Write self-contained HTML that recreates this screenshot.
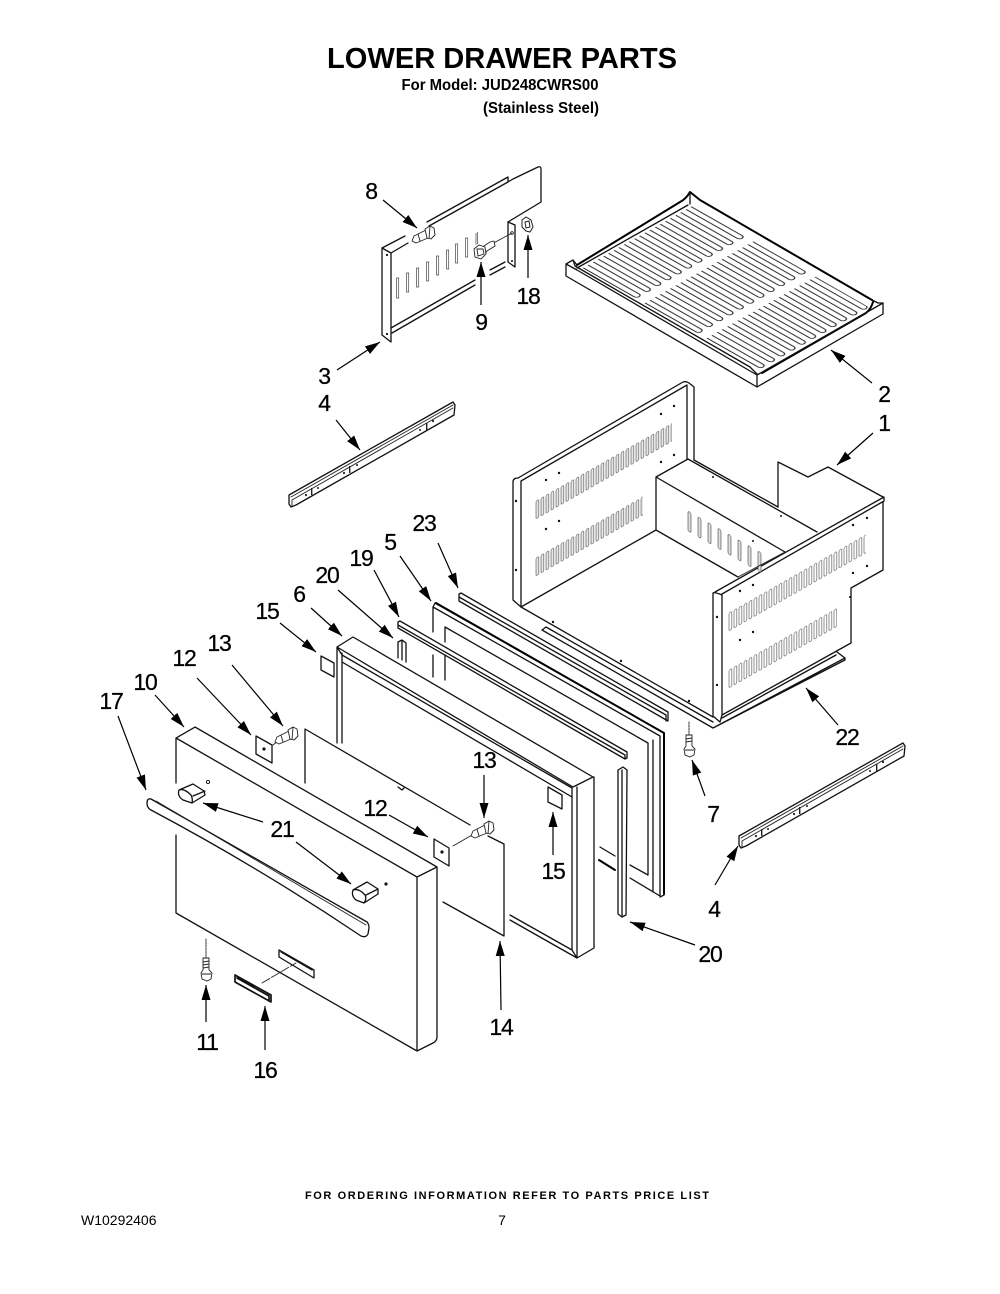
<!DOCTYPE html>
<html><head><meta charset="utf-8"><title>Lower Drawer Parts</title>
<style>
html,body{margin:0;padding:0;background:#fff;}
svg{display:block;}
text{font-family:"Liberation Sans",sans-serif;fill:#000;}
.n{font-size:23px;letter-spacing:-1.2px;text-anchor:middle;stroke:#000;stroke-width:.25;}
.l{fill:none;stroke:#111;stroke-width:1.3;stroke-linejoin:round;stroke-linecap:round;}
.t{fill:none;stroke:#222;stroke-width:.9;stroke-linejoin:round;stroke-linecap:round;}
.k{fill:none;stroke:#000;stroke-width:2;stroke-linejoin:round;stroke-linecap:round;}
.w{fill:#fff;stroke:#111;stroke-width:1.3;stroke-linejoin:round;stroke-linecap:round;}
.a{stroke:#000;stroke-width:1.2;fill:none;marker-end:url(#ah);}
</style></head><body>
<svg xmlns="http://www.w3.org/2000/svg" width="1000" height="1294" viewBox="0 0 1000 1294">
<defs>
<marker id="ah" markerUnits="userSpaceOnUse" markerWidth="16" markerHeight="10" refX="15" refY="5" orient="auto"><path d="M0 .5 L15 5 L0 9.5 Z" fill="#000"/></marker>
<pattern id="sl" patternUnits="userSpaceOnUse" width="5" height="19"><rect x="1" y=".5" width="2.8" height="18" rx="1.4" fill="#e6e6e6" stroke="#444" stroke-width=".6"/></pattern>
<pattern id="sr" patternUnits="userSpaceOnUse" width="5" height="19"><rect x="1" y=".5" width="2.8" height="18" rx="1.4" fill="#fff" stroke="#444" stroke-width=".6"/></pattern>
<pattern id="sb" patternUnits="userSpaceOnUse" width="10" height="21"><rect x="1" y=".5" width="3" height="20" rx="1.5" fill="#e0e0e0" stroke="#333" stroke-width=".6"/></pattern>
<pattern id="tp" patternUnits="userSpaceOnUse" width="62" height="10.3"><path d="M0 1 H51 A2.5 2.5 0 0 1 51 6 H0" fill="none" stroke="#222" stroke-width=".95"/></pattern>
<clipPath id="tc"><path d="M578 269 L690 205 L872 309 L758 373 Z"/></clipPath>
<g id="screw"><path d="M0 5 L2 0 L14 -6 L16 2 L4 7 Z M6 -2 L8 5" fill="#fff" stroke="#222" stroke-width=".9" stroke-linejoin="round"/><path d="M13 -7 L18 -10 L22 -8 L23 -1 L19 3 L15 2 Z M18 -10 L17 3" fill="#fff" stroke="#222" stroke-width=".9" stroke-linejoin="round"/></g>
<g id="rail"><path class="w" d="M288 495 L452 402 L454 405 L453 415 L295 505 L290 507 L288 504 Z"/><path class="t" d="M290 497 L452 405 M291 500 L452 408 M291 500 V507"/>
<g fill="#222"><rect x="310" y="488" width="1.4" height="7"/><circle cx="305" cy="495" r="1.1"/><circle cx="317" cy="488" r="1"/><rect x="348" y="466" width="1.4" height="7"/><circle cx="343" cy="473" r="1.1"/><circle cx="356" cy="465" r="1"/><rect x="425" y="423" width="1.4" height="7"/><circle cx="419" cy="430" r="1"/><circle cx="432" cy="421" r="1.1"/></g></g>
</defs>
<rect width="1000" height="1294" fill="#fff"/>

<!-- Title -->
<text x="502" y="68" text-anchor="middle" font-size="29" font-weight="bold" textLength="350" lengthAdjust="spacingAndGlyphs">LOWER DRAWER PARTS</text>
<text x="500" y="90" text-anchor="middle" font-size="16" font-weight="bold" textLength="197" lengthAdjust="spacingAndGlyphs">For Model: JUD248CWRS00</text>
<text x="541" y="113" text-anchor="middle" font-size="16" font-weight="bold" textLength="116" lengthAdjust="spacingAndGlyphs">(Stainless Steel)</text>

<!-- Part 3 bracket -->
<g>
<path class="l" d="M382 248 L405 236 M391 253 L408 243 M427 222 L508 177 V182 L429 226 M508 182 L513 179 L538 167 Q541 166 541 169 L541 202 L508 222"/>
<path class="l" d="M382 248 L391 253 L391 342 L382 335 Z"/>
<path class="l" d="M508 222 V262 M508 222 L515 225 V267 L508 262 M391 328 L475 280 M392 333 L475 285 M490 270 L505 262 M490 275 L505 267"/>
<circle cx="387" cy="255" r="1.1" fill="#111"/><circle cx="387" cy="334" r="1.1" fill="#111"/><circle cx="512" cy="233" r="1.4" fill="none" stroke="#111" stroke-width=".7"/><circle cx="512" cy="261" r="1" fill="#111"/>
<g fill="none" stroke="#444" stroke-width=".7"><rect x="396.500" y="278" width="2.2" height="20"/><rect x="406.500" y="273" width="2.2" height="19"/><rect x="416.500" y="268" width="2.2" height="19"/><rect x="426.500" y="262" width="2.2" height="19"/><rect x="436.500" y="256" width="2.2" height="19"/><rect x="446.500" y="250" width="2.2" height="19"/><rect x="455.500" y="244" width="2.2" height="19"/><rect x="465.500" y="238" width="2.200" height="19"/><path d="M476 233 V245 M477.500 232 V244"/></g>
<use href="#screw" x="412" y="236"/>
<path class="t" d="M490 245 L512 233"/>
<path d="M481 248 L490 242 L494 241 L495 246 L487 251 L484 256 Z" fill="#fff" stroke="#222" stroke-width=".9"/>
<path d="M474 249 L479 245 L485 247 L486 254 L481 259 L475 257 Z M477 249 L483 249 L484 254 L478 256 Z" fill="#fff" stroke="#222" stroke-width=".9"/>
<path d="M522 220 L526 217 L531 220 L533 227 L530 232 L526 231 L522 227 Z M525 222 L529 221 L530 227 L526 228 Z" fill="#fff" stroke="#222" stroke-width="1"/>
</g>

<!-- Part 2 tray -->
<g>
<path class="w" d="M566 264 L573 260 L577 265 L680 202 Q686 199 690 192 L700 200 L872 300 L878 303 L883 303 L883 314 L757 387 L566 276 Z"/>
<path class="k" d="M577 265 L680 202 Q686 199 690 192 L700 200 L872 300"/>
<path class="k" d="M762 373 L866 313 Q871 309 873 302"/>
<path class="l" d="M566 264 L577 270 L757 375 L883 303 M757 375 V387 M690 193 V204 M577 268 L688 205 M573 260 L575 266 L750 367 L757 374"/>
<g clip-path="url(#tc)"><g transform="matrix(1,0.567,-1,0.567,692,206)"><rect x="0" y="0" width="186" height="113" fill="url(#tp)"/></g></g>
</g>

<!-- Part 1 drawer -->
<g>
<path class="l" d="M521 607 L656 530 L738 577 M656 477 V530 M656 477 L688 459 M656 477 L785 552 M688 459 L817 532 M694 460 L778 507"/>
<path class="l" d="M778 507 V462 L808 477 L828 467 L883 497"/>
<path class="l" d="M518 478 L683 382 Q686 381 689 383 L694 387 V460 M521 481 L687 385 V459 M518 478 Q513 478 513 482 V600 L521 607 V481 M521 607 L713 717 M513 600 L521 607"/>
<path class="l" d="M715 592 L884 497 L884 501 L722 594 M883 502 V570 L851 588 V643 L722 715 M713 593 Q715 592 722 595 V715 L720 722 L713 716 Z" fill="#fff"/>
<g transform="translate(535,501) skewY(-29.7)"><rect width="137" height="19" fill="url(#sl)"/></g>
<g transform="translate(535,558) skewY(-29.7)"><rect width="108" height="19" fill="url(#sl)"/></g>
<g transform="translate(728,613) skewY(-29.7)"><rect width="138" height="19" fill="url(#sr)"/></g>
<g transform="translate(728,670) skewY(-29.7)"><rect width="109" height="19" fill="url(#sr)"/></g>
<g transform="translate(687,510) skewY(29.7)"><rect width="80" height="21" fill="url(#sb)"/></g>
<path d="M785 552 L738 577" class="t"/>
<g fill="#111">
<circle cx="661" cy="414" r="1.2"/><circle cx="674" cy="406" r="1.2"/><circle cx="546" cy="480" r="1.2"/><circle cx="559" cy="473" r="1.2"/><circle cx="546" cy="529" r="1.2"/><circle cx="559" cy="521" r="1.2"/><circle cx="661" cy="462" r="1.2"/><circle cx="674" cy="455" r="1.2"/><circle cx="516" cy="501" r="1.2"/><circle cx="516" cy="570" r="1.2"/>
<circle cx="713" cy="477" r="1"/><circle cx="781" cy="516" r="1"/><circle cx="753" cy="541" r="1"/>
<circle cx="740" cy="591" r="1.2"/><circle cx="740" cy="640" r="1.2"/><circle cx="753" cy="585" r="1.2"/><circle cx="853" cy="525" r="1.2"/><circle cx="867" cy="518" r="1.2"/><circle cx="853" cy="573" r="1.2"/><circle cx="867" cy="566" r="1.2"/><circle cx="753" cy="632" r="1.2"/><circle cx="717" cy="617" r="1.2"/><circle cx="717" cy="685" r="1.2"/><circle cx="850" cy="597" r="1"/>
<circle cx="553" cy="622" r="1.2"/><circle cx="621" cy="661" r="1.2"/><circle cx="689" cy="701" r="1.2"/>
</g>
<!-- part 22 sheet -->
<path class="l" d="M542 630 L546 627 L713 722 M542 630 L713 728 L845 658 L837 652 M713 728 L845 660 L845 658 M722 718 L836 655"/>
</g>

<!-- Part 4 rails -->
<use href="#rail" x="1"/>
<use href="#rail" x="451" y="341"/>

<!-- Part 5 gasket -->
<path class="l" d="M433 607 L435 603 L664 733 V895 L660 897 M433 607 L660 736 V896 M445 627 L648 743 V875 M653 740 V892 M433 607 V632 M433 655 V677 M445 627 V642 M445 655 V680 M600 847 L615 856 M630 865 L648 875 M630 878 L660 896"/>
<path class="k" d="M436 603 L664 733 V894 M599 860 L615 870"/>
<!-- Strip 23 -->
<path class="l" d="M459 594 L461 593 L668 712 V721 L459 601 Z M459 597 L666 715 V721"/>
<!-- Strip 19 -->
<path class="l" d="M398 622 L400 621 L627 752 V758 L625 759 L398 628 Z M398 625 L625 755 V759"/>
<!-- Strip 20 left -->
<path class="l" d="M398 658 V642 L402 640 L406 643 V662 M402 641 V660"/>
<!-- Strip 20 right -->
<path class="w" d="M618 770 L623 767 L627 770 L626 915 L622 917 L618 914 Z"/>
<path class="l" d="M622 770 V917"/>

<!-- Part 6 frame -->
<g>
<path class="l" d="M337 743 V647 L353 637 L593 777 L573 787 L337 647 M342 743 V653 M342 662 L572 797 M342 655 L572 788 M337 647 L342 655 M572 788 V950 M577 787 V958 L594 948 V777 M510 915 L572 950 L577 958 M510 920 L577 958"/>
<path class="w" d="M321 656 L334 663 V677 L321 670 Z"/>
<path class="w" d="M548 787 L562 795 V809 L548 802 Z"/>
</g>

<!-- Part 14 sheet -->
<path class="l" d="M305 783 V729 L470 825 M488 836 L504 844 V936 L443 902 M398 787 L402 790 L404 788"/>

<!-- Part 12/13 -->
<path class="w" d="M256 736 L272 745 V763 L256 754 Z"/><circle cx="264" cy="749" r="1.6" fill="#111"/>
<path class="w" d="M434 839 L449 848 V866 L434 857 Z"/><circle cx="442" cy="852" r="1.6" fill="#111"/>
<path class="t" d="M273 745 L278 741"/>
<use href="#screw" x="275" y="737"/>
<path class="t" d="M453 846 L472 835"/>
<use href="#screw" x="471" y="831"/>

<!-- Part 10 front -->
<g>
<path class="l" d="M176 783 V738 L195 727 L437 867 L417 877 L176 738 M176 835 V913 L417 1051 V877 M417 1051 L433 1043 Q437 1041 437 1037 V867"/>
<circle cx="208" cy="782" r="1.6" fill="none" stroke="#111" stroke-width=".9"/><circle cx="386" cy="884" r="1.6" fill="#111"/>
<path class="w" d="M147 803 Q147 798 151 799 L367 922 Q369 924 369 928 L368 934 Q366 938 361 936 Q260 868 151 810 Q147 808 147 803 Z"/>
<path class="t" d="M156 801 L366 925"/>
<path class="w" d="M179 790 L193 784 L204 791 L205 795 L192 803 L183 800 Q177 796 179 790 Z M179 790 Q184 788 191 795 Q193 799 192 803 M193 796 L205 791"/>
<path class="w" d="M353 890 L367 882 L378 889 L378 894 L364 903 L356 900 Q351 896 353 890 Z M353 890 Q359 888 365 895 Q367 899 364 903 M366 895 L378 889"/>
<path class="l" d="M279 950 L314 970 V978 L279 957 Z M281 952 L312 970" />
<path class="l" style="stroke-width:1.7" d="M235 975 L271 995 V1002 L235 982 Z M237 978 L269 996 V1001"/>
<path class="t" d="M262 983 L296 963" stroke-dasharray="9 2"/>
<path class="t" d="M206 939 V958" stroke-dasharray="2 1"/>
<path d="M203 958 L209 958 L209 970 L212 973 L211 979 L207 981 L202 979 L201 973 L203 970 Z M203 962 L209 961 M203 965 L209 964 M203 968 L209 967 M202 974 L211 974" fill="#fff" stroke="#222" stroke-width=".9"/>
</g>
<!-- Screw 7 -->
<path class="t" d="M689 722 V735" stroke-dasharray="2 1"/>
<path d="M686 735 L692 735 L692 746 L695 749 L694 755 L690 757 L685 755 L684 749 L686 746 Z M686 739 L692 738 M686 742 L692 741 M685 750 L694 750" fill="#fff" stroke="#222" stroke-width=".9"/>

<!-- Arrows -->
<line class="a" x1="383" y1="200" x2="417" y2="228"/>
<line class="a" x1="481" y1="305" x2="481" y2="262"/>
<line class="a" x1="528" y1="278" x2="528" y2="235"/>
<line class="a" x1="337" y1="370" x2="380" y2="342"/>
<line class="a" x1="872" y1="383" x2="831" y2="350"/>
<line class="a" x1="873" y1="433" x2="837" y2="465"/>
<line class="a" x1="838" y1="725" x2="806" y2="688"/>
<line class="a" x1="336" y1="420" x2="360" y2="450"/>
<line class="a" x1="705" y1="796" x2="692" y2="760"/>
<line class="a" x1="715" y1="885" x2="738" y2="846"/>
<line class="a" x1="695" y1="945" x2="630" y2="922"/>
<line class="a" x1="501" y1="1010" x2="500" y2="941"/>
<line class="a" x1="265" y1="1050" x2="265" y2="1006"/>
<line class="a" x1="206" y1="1022" x2="206" y2="985"/>
<line class="a" x1="263" y1="822" x2="203" y2="803"/>
<line class="a" x1="296" y1="842" x2="351" y2="884"/>
<line class="a" x1="118" y1="716" x2="146" y2="790"/>
<line class="a" x1="155" y1="695" x2="184" y2="727"/>
<line class="a" x1="197" y1="678" x2="251" y2="735"/>
<line class="a" x1="232" y1="665" x2="283" y2="726"/>
<line class="a" x1="280" y1="623" x2="316" y2="652"/>
<line class="a" x1="311" y1="608" x2="342" y2="636"/>
<line class="a" x1="338" y1="590" x2="393" y2="638"/>
<line class="a" x1="374" y1="570" x2="399" y2="617"/>
<line class="a" x1="400" y1="556" x2="431" y2="601"/>
<line class="a" x1="438" y1="543" x2="458" y2="588"/>
<line class="a" x1="484" y1="775" x2="484" y2="818"/>
<line class="a" x1="389" y1="815" x2="428" y2="837"/>
<line class="a" x1="553" y1="855" x2="553" y2="812"/>

<!-- Labels -->
<text class="n" x="371" y="199">8</text>
<text class="n" x="481" y="330">9</text>
<text class="n" x="528" y="304">18</text>
<text class="n" x="324" y="384">3</text>
<text class="n" x="884" y="402">2</text>
<text class="n" x="884" y="431">1</text>
<text class="n" x="324" y="411">4</text>
<text class="n" x="847" y="745">22</text>
<text class="n" x="424" y="531">23</text>
<text class="n" x="390" y="550">5</text>
<text class="n" x="361" y="566">19</text>
<text class="n" x="327" y="583">20</text>
<text class="n" x="299" y="602">6</text>
<text class="n" x="267" y="619">15</text>
<text class="n" x="219" y="651">13</text>
<text class="n" x="184" y="666">12</text>
<text class="n" x="145" y="690">10</text>
<text class="n" x="111" y="709">17</text>
<text class="n" x="484" y="768">13</text>
<text class="n" x="375" y="816">12</text>
<text class="n" x="553" y="879">15</text>
<text class="n" x="282" y="837">21</text>
<text class="n" x="713" y="822">7</text>
<text class="n" x="714" y="917">4</text>
<text class="n" x="710" y="962">20</text>
<text class="n" x="501" y="1035">14</text>
<text class="n" x="207" y="1050">11</text>
<text class="n" x="265" y="1078">16</text>

<!-- Footer -->
<text x="507" y="1199" text-anchor="middle" font-size="11" font-weight="bold" textLength="404" lengthAdjust="spacing">FOR ORDERING INFORMATION REFER TO PARTS PRICE LIST</text>
<text x="81" y="1225" font-size="14">W10292406</text>
<text x="502" y="1225" text-anchor="middle" font-size="14">7</text>
</svg>
</body></html>
